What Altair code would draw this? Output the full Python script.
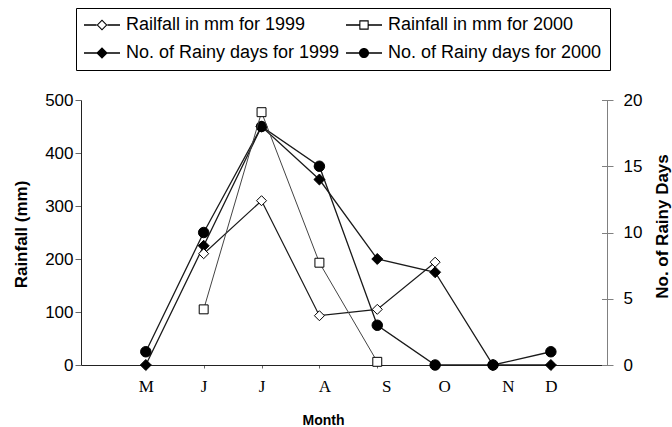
import altair as alt
import pandas as pd

months = ["M", "J", "J", "A", "S", "O", "N", "D"]
rain_1999 = [None, 210, 310, 93, 105, 194, None, None]
rain_2000 = [None, 105, 477, 193, 6, None, None, None]
days_1999 = [0, 9, 18, 14, 8, 7, 0, 0]
days_2000 = [1, 10, 18, 15, 3, 0, 0, 1]

names = [
    "Railfall in mm for 1999",
    "Rainfall in mm for 2000",
    "No. of Rainy days for 1999",
    "No. of Rainy days for 2000",
]
series_values = [rain_1999, rain_2000, days_1999, days_2000]

rows = []
for name, vals in zip(names, series_values):
    for i, v in enumerate(vals):
        if v is not None:
            rows.append({"idx": i, "value": v, "series": name})
df = pd.DataFrame(rows)

# legend symbols drawn with fill only: line piece + marker (unit square -1..1)
leg_paths = [
    # line with open diamond (ring)
    "M-1,-0.035L-0.3,-0.035L-0.3,0.035L-1,0.035Z"
    "M0.3,-0.035L1,-0.035L1,0.035L0.3,0.035Z"
    "M-0.3,0L0,-0.3L0.3,0L0,0.3Z"
    "M-0.22,0L0,0.22L0.22,0L0,-0.22Z",
    # line with open square (ring)
    "M-1,-0.035L-0.26,-0.035L-0.26,0.035L-1,0.035Z"
    "M0.26,-0.035L1,-0.035L1,0.035L0.26,0.035Z"
    "M-0.26,-0.26L0.26,-0.26L0.26,0.26L-0.26,0.26Z"
    "M-0.2,-0.2L-0.2,0.2L0.2,0.2L0.2,-0.2Z",
    # line with filled diamond
    "M-1,-0.035L1,-0.035L1,0.035L-1,0.035Z"
    "M-0.32,0L0,-0.32L0.32,0L0,0.32Z",
    # line with filled circle
    "M-1,-0.035L1,-0.035L1,0.035L-1,0.035Z"
    "M-0.28,0A0.28,0.28,0,1,1,0.28,0A0.28,0.28,0,1,1,-0.28,0Z",
]

FONT = "Liberation Sans"
label_expr = "[" + ",".join("'%s'" % m for m in months) + "][datum.value]"

X = alt.X(
    "idx:Q",
    scale=alt.Scale(domain=[-1.12, 7.97], nice=False, zero=False),
    axis=alt.Axis(
        values=list(range(len(months))),
        labelExpr=label_expr,
        tickSize=3,
        labelPadding=10,
        labelFont="Liberation Serif",
        labelFontSize=17,
        labelColor="black",
        labelFlush=False,
        labelOffset={
            "condition": [
                {"test": "datum.value == 3", "value": 5},
                {"test": "datum.value == 4", "value": 9},
                {"test": "datum.value == 5", "value": 9},
                {"test": "datum.value == 6", "value": 15},
            ],
            "value": 0,
        },
        title="Month",
        titleFont=FONT,
        titleFontSize=14,
        titleFontWeight="bold",
        titleX=242,
        titleY=55,
        titleBaseline="middle",
        titleAlign="center",
        domainColor="#222222",
        tickColor="#666666",
        grid=False,
    ),
)

Y_rain = alt.Y(
    "value:Q",
    scale=alt.Scale(domain=[0, 500], nice=False),
    axis=alt.Axis(
        orient="left",
        values=[0, 100, 200, 300, 400, 500],
        tickSize=6,
        labelPadding=2,
        labelFont=FONT,
        labelFontSize=17,
        labelColor="black",
        domainColor="#222222",
        tickColor="#666666",
        title="Rainfall (mm)",
        titleFont=FONT,
        titleFontSize=17,
        titleFontWeight="bold",
        titleAngle=270,
        titleX=-60,
        titleY=134,
        titleBaseline="middle",
        titleAlign="center",
        grid=False,
    ),
)

Y_days = alt.Y(
    "value:Q",
    scale=alt.Scale(domain=[0, 20], nice=False),
    axis=alt.Axis(
        orient="right",
        values=[0, 5, 10, 15, 20],
        offset=-5.5,
        tickSize=11.5,
        domain=False,
        labelPadding=10,
        labelFont=FONT,
        labelFontSize=17,
        labelColor="black",
        tickColor="#808080",
        title="No. of Rainy Days",
        titleFont=FONT,
        titleFontSize=17,
        titleFontWeight="bold",
        titleAngle=270,
        titleX=60.5,
        titleY=126,
        titleBaseline="middle",
        titleAlign="center",
        grid=False,
    ),
)

Y_frame = alt.Y(
    "value:Q",
    scale=alt.Scale(domain=[0, 20], nice=False),
    axis=alt.Axis(
        orient="right",
        domain=True,
        domainColor="#808080",
        ticks=False,
        labels=False,
        grid=False,
        title=None,
    ),
)


def series(name, y, shape, fill, size, color, width):
    base = alt.Chart(df).transform_filter(alt.datum.series == name).encode(x=X, y=y)
    line = base.mark_line(color=color, strokeWidth=width)
    pts = base.mark_point(
        shape=shape, filled=True, fill=fill, stroke="black", strokeWidth=1, size=size, opacity=1
    )
    return line, pts


l_d99, p_d99 = series(names[2], Y_days, "diamond", "black", 120, "#1a1a1a", 1.3)
l_d00, p_d00 = series(names[3], Y_days, "circle", "black", 110, "#1a1a1a", 1.3)
l_r99, p_r99 = series(names[0], Y_rain, "diamond", "white", 100, "#1a1a1a", 1.2)
l_r00, p_r00 = series(names[1], Y_rain, "square", "white", 80, "#444444", 1.0)

days_layer = alt.layer(l_d99, l_d00, p_d99, p_d00)
rain_layer = alt.layer(l_r99, l_r00, p_r99, p_r00)

legend_layer = (
    alt.Chart(df)
    .transform_filter("false")
    .mark_point(filled=True, fill="black", opacity=1)
    .encode(
        x=X,
        y=Y_frame,
        shape=alt.Shape(
            "series:N",
            scale=alt.Scale(domain=names, range=leg_paths),
            legend=alt.Legend(
                title=None,
                orient="none",
                legendX=-5,
                legendY=-92,
                direction="horizontal",
                columns=2,
                symbolSize=1296,
                symbolStrokeWidth=0,
                symbolFillColor="black",
                clipHeight=18,
                labelFont=FONT,
                labelFontSize=18,
                labelColor="black",
                labelLimit=400,
                labelOffset=6,
                rowPadding=10,
                columnPadding=6,
                padding=8,
                strokeColor="black",
                fillColor="white",
            ),
        ),
    )
)

chart = (
    alt.layer(days_layer, rain_layer, legend_layer)
    .resolve_scale(y="independent")
    .properties(
        width=526,
        height=265,
        autosize=alt.AutoSizeParams(type="none"),
        padding={"left": 81, "top": 100, "right": 65, "bottom": 62},
        background="white",
    )
    .configure_view(stroke=None)
)

chart.save("out.html", embed_options={"renderer": "svg", "actions": False})
